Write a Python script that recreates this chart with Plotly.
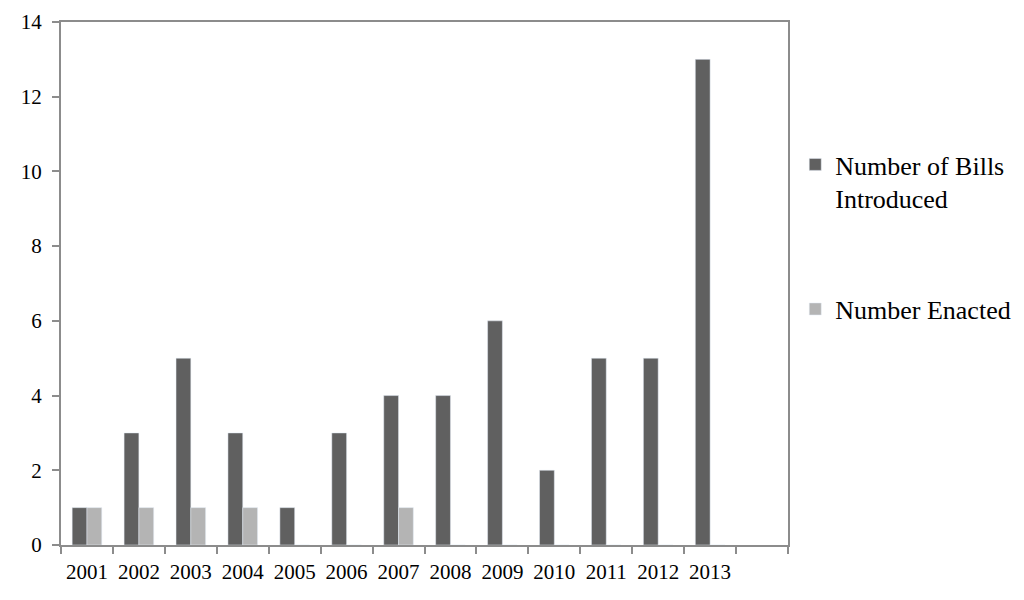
import plotly.graph_objects as go

# Bills introduced vs enacted per year
years = [2001, 2002, 2003, 2004, 2005, 2006, 2007, 2008, 2009, 2010, 2011, 2012, 2013]
bills_introduced = [1, 3, 5, 3, 1, 3, 4, 4, 6, 2, 5, 5, 13]
bills_enacted = [1, 1, 1, 1, 0, 0, 1, 0, 0, 0, 0, 0, 0]

axis_grey = '#8c8c8c'
font_name = 'Liberation Serif, Times New Roman, serif'

fig = go.Figure()
fig.add_trace(go.Bar(x=years, y=bills_introduced, name='Number of Bills<br>Introduced',
                     marker_color='#606060', legendgroup='a'))
fig.add_trace(go.Bar(x=years, y=bills_enacted, name='Number Enacted',
                     marker_color='#b4b4b4', legendgroup='b'))

# boundaries between the year slots (one empty slot after 2013)
boundaries = [y - 0.5 for y in years] + [years[-1] + 0.5, years[-1] + 1.5]

# page body has an 8px margin, so the figure is a bit smaller than the window
fig.update_layout(
    barmode='group', bargap=0.43, bargroupgap=0,
    width=1008, height=584,
    plot_bgcolor='white', paper_bgcolor='white',
    font=dict(family=font_name, size=21, color='black'),
    margin=dict(l=53, r=228, t=14, b=47),
    legend=dict(xref='container', yref='container', x=0.781, y=0.7723,
                xanchor='left', yanchor='top', valign='top',
                font=dict(size=26), tracegroupgap=74, itemwidth=30),
)
fig.update_xaxes(
    range=[years[0] - 0.5, years[-1] + 1.5], automargin=False,
    tickvals=years, tickformat='d', ticks='', ticklabelstandoff=7,
    minor=dict(tickmode='array', tickvals=boundaries, ticks='outside',
               ticklen=7, tickwidth=2, tickcolor=axis_grey),
    showline=True, linecolor=axis_grey, linewidth=2, mirror=True,
    showgrid=False, zeroline=False,
)
fig.update_yaxes(
    range=[0, 14], dtick=2, ticks='outside', ticklen=7, tickwidth=2,
    tickcolor=axis_grey, showline=True, linecolor=axis_grey, linewidth=2,
    mirror=True, showgrid=False, zeroline=False, automargin=False,
    ticklabelstandoff=6,
)

fig.write_html("out.html")
